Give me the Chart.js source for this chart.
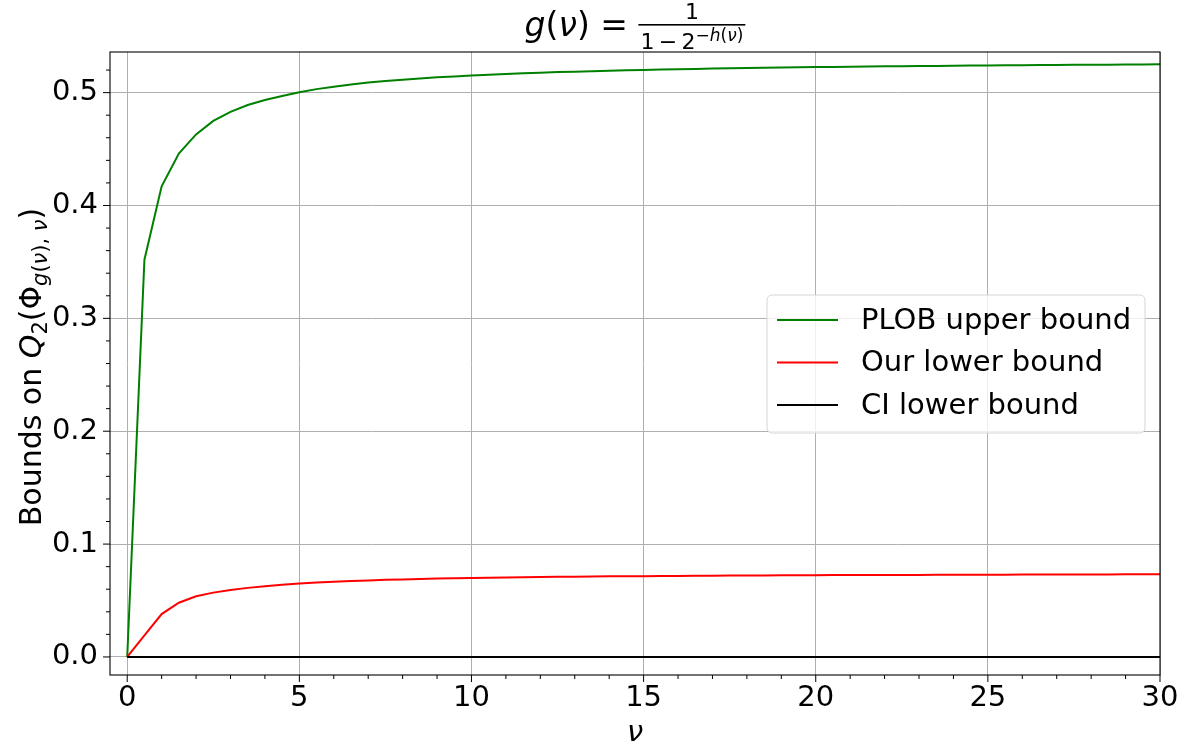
<!DOCTYPE html>
<html>
<head>
<meta charset="utf-8">
<script src="https://cdn.jsdelivr.net/npm/chart.js@4.4.0/dist/chart.umd.min.js"></script>
<style>
  html, body { margin: 0; padding: 0; background: #fff; }
</style>
</head>
<body>
<canvas id="c" width="1189" height="751"></canvas>
<script>
// nu values (x axis)
const nu = [0, 0.5, 1, 1.5, 2, 2.5, 3, 3.5, 4, 4.5, 5, 5.5, 6, 6.5, 7, 7.5, 8, 8.5, 9, 9.5,
  10, 10.5, 11, 11.5, 12, 12.5, 13, 13.5, 14, 14.5, 15, 15.5, 16, 16.5, 17, 17.5, 18, 18.5, 19, 19.5,
  20, 20.5, 21, 21.5, 22, 22.5, 23, 23.5, 24, 24.5, 25, 25.5, 26, 26.5, 27, 27.5, 28, 28.5, 29, 29.5, 30];

const plobUpper = [0, 0.352, 0.417, 0.446, 0.463, 0.475, 0.483, 0.489, 0.4935, 0.4971,
  0.5003, 0.5031, 0.5053, 0.5072, 0.5089, 0.5103, 0.5115, 0.5126, 0.5136, 0.5144,
  0.5152, 0.5159, 0.5165, 0.5171, 0.5177, 0.5182, 0.5186, 0.519, 0.5194, 0.5198,
  0.5201, 0.5204, 0.5207, 0.521, 0.5213, 0.5215, 0.5218, 0.522, 0.5222, 0.5224,
  0.5226, 0.5228, 0.523, 0.5231, 0.5233, 0.5234, 0.5236, 0.5237, 0.5238, 0.524,
  0.5241, 0.5242, 0.5243, 0.5244, 0.5245, 0.5246, 0.5247, 0.5248, 0.5249, 0.525, 0.5251];

const ourLower = [0, 0.019, 0.038, 0.048, 0.0537, 0.057, 0.0594, 0.0612, 0.0626, 0.0639,
  0.065, 0.0659, 0.0667, 0.0673, 0.0678, 0.0683, 0.0687, 0.0691, 0.0694, 0.0697,
  0.07, 0.0702, 0.0704, 0.0706, 0.0708, 0.071, 0.0711, 0.0713, 0.0714, 0.0715,
  0.0716, 0.0717, 0.0718, 0.0719, 0.072, 0.0721, 0.0722, 0.0722, 0.0723, 0.0724,
  0.0724, 0.0725, 0.0725, 0.0726, 0.0726, 0.0727, 0.0727, 0.0728, 0.0728, 0.0728,
  0.0729, 0.0729, 0.073, 0.073, 0.073, 0.0731, 0.0731, 0.0731, 0.0732, 0.0732, 0.0732];

const ciLower = nu.map(() => 0);

const xTicks = [0, 5, 10, 15, 20, 25, 30];
const yTicks = [0.0, 0.1, 0.2, 0.3, 0.4, 0.5];
const labels = ['PLOB upper bound', 'Our lower bound', 'CI lower bound'];

const FONT = '"DejaVu Sans", sans-serif';
const FS = 29;

function pts(ys) {
  return nu.map((x, i) => ({ x: x, y: ys[i] }));
}

// draws frame, minor/major tick marks, title, axis labels, legend
const extras = {
  id: 'extras',
  afterDraw(chart) {
    const ctx = chart.ctx, a = chart.chartArea;
    const xs = chart.scales.x, ys = chart.scales.y;
    ctx.save();

    // frame
    ctx.strokeStyle = '#000';
    ctx.lineWidth = 1.1;
    ctx.strokeRect(a.left, a.top, a.right - a.left, a.bottom - a.top);

    // tick marks
    ctx.beginPath();
    for (let v = 0; v <= 30; v += 1) {
      const px = xs.getPixelForValue(v);
      const len = v % 5 === 0 ? 7 : 4;
      ctx.moveTo(px, a.bottom); ctx.lineTo(px, a.bottom + len);
    }
    for (let k = 0; k <= 26; k++) {
      const v = k * 0.02;
      const py = ys.getPixelForValue(v);
      const len = k % 5 === 0 ? 7 : 4;
      ctx.moveTo(a.left, py); ctx.lineTo(a.left - len, py);
    }
    ctx.lineWidth = 1;
    ctx.stroke();

    // title: g(v) = 1 / (1 - 2^{-h(v)})
    ctx.fillStyle = '#000';
    ctx.textBaseline = 'alphabetic';
    ctx.textAlign = 'left';
    const TS = 33;
    const itF = 'italic ' + TS + 'px ' + FONT;
    const nF = TS + 'px ' + FONT;
    const sF = '22px ' + FONT;
    const sIF = 'italic 17px ' + FONT;
    const s14 = '17px ' + FONT;
    const den = '1\u2009−\u20092';
    ctx.font = itF; const wg = ctx.measureText('g').width;
    ctx.font = nF; const wp = ctx.measureText('(').width;
    ctx.font = itF; const wn = ctx.measureText('ν').width;
    ctx.font = nF; const weq = ctx.measureText(') = ').width;
    ctx.font = sF; const wd = ctx.measureText(den).width;
    ctx.font = s14; const wm = ctx.measureText('−').width;
    ctx.font = sIF; const wh = ctx.measureText('h').width;
    ctx.font = s14; const wpp = ctx.measureText('(').width;
    ctx.font = sIF; const wnu = ctx.measureText('ν').width;
    ctx.font = s14; const wpr = ctx.measureText(')').width;
    const fracW = wd + wm + wh + wpp + wnu + wpr + 4;
    const total = wg + wp + wn + weq + fracW;
    let x = (a.left + a.right) / 2 - total / 2;
    const base = 36;
    ctx.font = itF; ctx.fillText('g', x, base); x += wg;
    ctx.font = nF; ctx.fillText('(', x, base); x += wp;
    ctx.font = itF; ctx.fillText('ν', x, base); x += wn;
    ctx.font = nF; ctx.fillText(') = ', x, base); x += weq;
    // fraction bar
    ctx.fillRect(x, 24, fracW, 1.6);
    ctx.font = sF; ctx.textAlign = 'center';
    ctx.fillText('1', x + fracW / 2, 19);
    ctx.textAlign = 'left';
    let dx = x + 2;
    ctx.fillText(den, dx, 49); dx += wd;
    ctx.font = s14; ctx.fillText('−', dx, 41); dx += wm;
    ctx.font = sIF; ctx.fillText('h', dx, 41); dx += wh;
    ctx.font = s14; ctx.fillText('(', dx, 41); dx += wpp;
    ctx.font = sIF; ctx.fillText('ν', dx, 41); dx += wnu;
    ctx.font = s14; ctx.fillText(')', dx, 41);

    // x label
    ctx.font = 'italic ' + FS + 'px ' + FONT; ctx.textAlign = 'center';
    ctx.fillText('ν', (a.left + a.right) / 2, 741);

    // y label (rotated)
    const yF = '30px ' + FONT, yIF = 'italic 30px ' + FONT;
    const ySF = '21px ' + FONT, ySIF = 'italic 21px ' + FONT;
    const parts = [
      ['Bounds on ', yF, 0], ['Q', yIF, 0], ['2', ySF, 6], ['(Φ', yF, 0],
      ['g', ySIF, 6], ['(', ySF, 6], ['ν', ySIF, 6],
      ['), ', ySF, 6], ['ν', ySIF, 6], [')', yF, 0]
    ];
    let tw = 0;
    parts.forEach(p => { ctx.font = p[1]; tw += ctx.measureText(p[0]).width; });
    ctx.save();
    ctx.translate(41, 367);
    ctx.rotate(-Math.PI / 2);
    ctx.textAlign = 'left';
    let tx = -tw / 2;
    parts.forEach(p => {
      ctx.font = p[1];
      ctx.fillText(p[0], tx, p[2]);
      tx += ctx.measureText(p[0]).width;
    });
    ctx.restore();

    // legend
    const lx = 767, ly = 295, lw = 378, lh = 138;
    ctx.beginPath();
    ctx.roundRect(lx, ly, lw, lh, 5);
    ctx.fillStyle = 'rgba(255,255,255,0.8)';
    ctx.fill();
    ctx.strokeStyle = '#d5d5d5';
    ctx.lineWidth = 1;
    ctx.stroke();
    ctx.font = FS + 'px ' + FONT;
    ctx.textAlign = 'left';
    ctx.textBaseline = 'middle';
    chart.data.datasets.forEach((ds, i) => {
      const ry = 320 + i * 42.5;
      ctx.strokeStyle = ds.borderColor;
      ctx.lineWidth = 2;
      ctx.beginPath(); ctx.moveTo(777, ry); ctx.lineTo(838, ry); ctx.stroke();
      ctx.fillStyle = '#000';
      ctx.fillText(ds.label, 861, ry + 1);
    });

    ctx.restore();
  }
};

new Chart(document.getElementById('c'), {
  type: 'scatter',
  data: {
    datasets: [
      { label: labels[0], data: pts(plobUpper), borderColor: '#008000', order: 3 },
      { label: labels[1], data: pts(ourLower), borderColor: '#ff0000', order: 2 },
      { label: labels[2], data: pts(ciLower), borderColor: '#000000', order: 1 }
    ].map(d => Object.assign(d, { showLine: true, pointRadius: 0, borderWidth: 2, fill: false, tension: 0 }))
  },
  options: {
    responsive: false,
    animation: false,
    devicePixelRatio: 1,
    layout: { padding: { left: 0, right: 29, top: 52, bottom: 0 } },
    plugins: { legend: { display: false }, tooltip: { enabled: false }, title: { display: false } },
    scales: {
      x: {
        type: 'linear', min: -0.5, max: 30,
        afterFit(s) { s.height = 76; },
        afterBuildTicks(s) { s.ticks = xTicks.map(v => ({ value: v })); },
        grid: { color: '#b0b0b0', lineWidth: 1, drawTicks: false },
        border: { display: false },
        ticks: { color: '#000', padding: 6, maxRotation: 0, font: { family: FONT, size: FS }, callback: v => String(v) }
      },
      y: {
        type: 'linear', min: -0.016, max: 0.536,
        afterFit(s) { s.width = 110; },
        afterBuildTicks(s) { s.ticks = yTicks.map(v => ({ value: v })); },
        grid: { color: '#b0b0b0', lineWidth: 1, drawTicks: false },
        border: { display: false },
        ticks: { color: '#000', padding: 12, font: { family: FONT, size: FS }, callback: v => Number(v).toFixed(1) }
      }
    }
  },
  plugins: [extras]
});
</script>
</body>
</html>
